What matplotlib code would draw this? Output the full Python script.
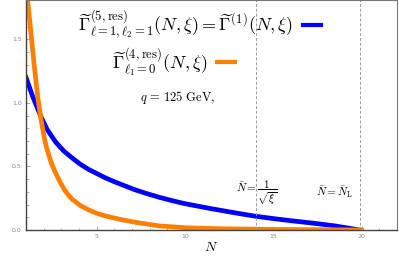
import matplotlib
matplotlib.use('Agg')
import matplotlib.pyplot as plt
from matplotlib.ticker import MultipleLocator

plt.rcParams['mathtext.fontset'] = 'cm'

# curve samples
n_blue = [1.0, 1.38, 1.85, 2.2, 2.69, 3.15, 3.63, 4.1, 4.57, 5.0, 5.5, 6.0, 6.55,
          7.1, 7.8, 8.55, 9.3, 10.0, 11.4, 12.7, 14.0, 15.0, 16.0, 17.3, 18.5,
          19.9]
gamma_blue = [1.20, 1.05, 0.89, 0.79, 0.69, 0.62, 0.565, 0.515, 0.475, 0.445, 0.41,
              0.38, 0.35, 0.32, 0.288, 0.257, 0.23, 0.207, 0.17, 0.138, 0.108,
              0.09, 0.073, 0.053, 0.032, 0.0]

n_orange = [1.0, 1.09, 1.28, 1.47, 1.66, 1.85, 2.03, 2.15, 2.3, 2.48, 2.69, 2.92,
            3.16, 3.4, 3.63, 4.1, 4.57, 5.0, 5.5, 6.45, 7.1, 8.55, 10.0, 12.0,
            15.0, 20.0]
gamma_orange = [1.95, 1.81, 1.55, 1.29, 1.05, 0.87, 0.73, 0.655, 0.585, 0.51, 0.445,
                0.38, 0.32, 0.275, 0.24, 0.19, 0.157, 0.132, 0.11, 0.08, 0.063,
                0.032, 0.018, 0.01, 0.005, 0.0]

n_sqrt_xi = 14.0
n_L = 19.9

fig = plt.figure(figsize=(3.99, 2.56), dpi=100)
ax = fig.add_axes([26 / 399, 1 - 230 / 256, 371 / 399, 230 / 256])

ax.plot(n_blue, gamma_blue, color='#0000ff', linewidth=3.4, solid_joinstyle='round')
ax.plot(n_orange, gamma_orange, color='#ff8000', linewidth=3.4, solid_joinstyle='round')

ax.axvline(n_sqrt_xi, color='#999999', linewidth=0.7, linestyle=(0, (3, 2)))
ax.axvline(n_L, color='#999999', linewidth=0.7, linestyle=(0, (3, 2)))

ax.set_xlim(1, 22)
ax.set_ylim(0, 1.81)
ax.xaxis.set_minor_locator(MultipleLocator(1))
ax.yaxis.set_minor_locator(MultipleLocator(0.1))
ax.tick_params(which='both', direction='in', colors='#999999', labelsize=4.5,
               labelcolor='#888888', pad=3)
ax.tick_params(which='major', length=3, width=0.6)
ax.tick_params(which='minor', length=1.8, width=0.5)
ax.set_xticks([5, 10, 15, 20])
ax.set_xticklabels(['5', '10', '15', '20'])
ax.set_yticks([0.0, 0.5, 1.0, 1.5])
ax.set_yticklabels(['0.0', '0.5', '1.0', '1.5'])
for side in ['left', 'bottom']:
    ax.spines[side].set_color('#444444')
    ax.spines[side].set_linewidth(1.0)
for side in ['top', 'right']:
    ax.spines[side].set_color('#777777')
    ax.spines[side].set_linewidth(0.8)

ax.text(0.14, 0.891,
        r'$\widetilde{\Gamma}^{(5,\mathrm{res})}_{\ell=1,\ell_2=1}(N,\xi)=\widetilde{\Gamma}^{(1)}(N,\xi)$',
        transform=ax.transAxes, fontsize=13, va='center', ha='left')
ax.plot([0.747, 0.795], [0.891, 0.891], transform=ax.transAxes, color='#0000ff',
        linewidth=3, clip_on=False)
ax.text(0.232, 0.730, r'$\widetilde{\Gamma}^{(4,\mathrm{res})}_{\ell_1=0}(N,\xi)$',
        transform=ax.transAxes, fontsize=13, va='center', ha='left')
ax.plot([0.515, 0.563], [0.730, 0.730], transform=ax.transAxes, color='#ff8000',
        linewidth=3, clip_on=False)

ax.text(0.307, 0.578, r'$q\,=\,125\ \mathrm{GeV},$', transform=ax.transAxes,
        fontsize=9, va='center', ha='left')
ax.text(12.9, 0.29, r'$\bar{N}=\dfrac{1}{\sqrt{\xi}}$', fontsize=8, va='center', ha='left')
ax.text(17.4, 0.30, r'$\bar{N}=\bar{N}_{\mathrm{L}}$', fontsize=8, va='center', ha='left')

fig.text(211 / 399, 1 - 247 / 256, r'$N$', fontsize=10, ha='center', va='center')

plt.savefig('out.png', dpi=100)
plt.close()
